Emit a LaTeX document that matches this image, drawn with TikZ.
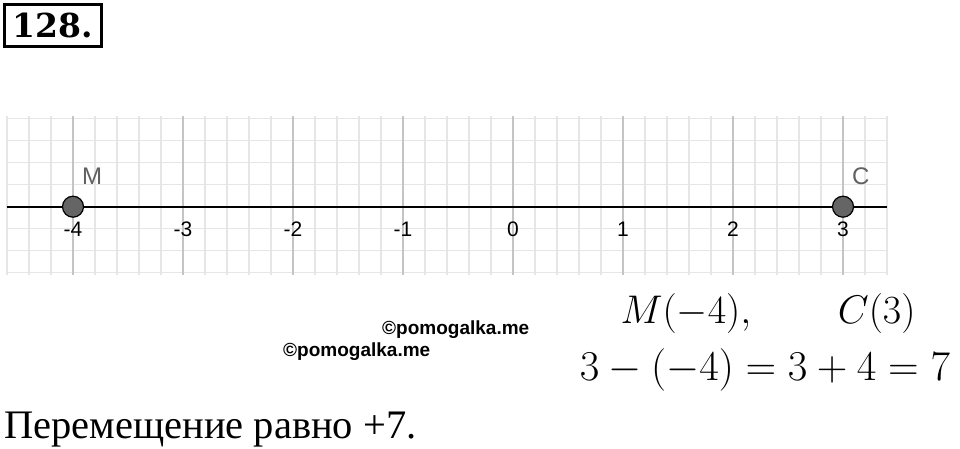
\documentclass[tikz,border=0pt]{standalone}
\usepackage{fix-cm}
\usepackage{fontspec}
\setmainfont{Liberation Serif}
\newfontfamily\ggbfont{Liberation Sans}
\newfontfamily\numfont{DejaVu Serif}
\usetikzlibrary{positioning}
\definecolor{gridmajor}{HTML}{C4C4C4}
\definecolor{gridminor}{HTML}{E6E6E6}
\definecolor{ptfill}{HTML}{656565}
\definecolor{ptlabel}{HTML}{606060}

\begin{document}
\begin{tikzpicture}[x=1pt, y=-1pt,
  minorline/.style={gridminor, line width=1.5pt},
  majorline/.style={gridmajor, line width=1.8pt},
  axisline/.style={black, line width=1.8pt},
  pt/.style={circle, draw=black, line width=1.2pt, fill=ptfill, minimum size=21pt, inner sep=0pt},
  ptname/.style={text=ptlabel, inner sep=0pt, font=\ggbfont\fontsize{24}{24}\selectfont},
  ticklbl/.style={inner sep=0pt, font=\ggbfont\fontsize{21}{21}\selectfont},
  numbox/.style={draw, line width=3pt, minimum width=97pt, minimum height=42pt, inner sep=0pt, font=\numfont\bfseries\fontsize{33}{33}\selectfont},
  mathline/.style={anchor=base, inner sep=0pt},
  wmark/.style={anchor=base west, inner sep=0pt, font=\ggbfont\bfseries\fontsize{19}{19}\selectfont},
  anstext/.style={anchor=base west, inner sep=0pt, font=\fontsize{40.5}{42}\selectfont}]
\useasboundingbox (0,0) rectangle (960,449);
\node[numbox] (num) at (53,25.5) {128.};
\begin{scope}[shift={(513,206.7)}, x=110pt, y=110pt]
\foreach \i in {0,...,40}
  \draw[minorline] ({-4.6+0.2*\i},-0.62) -- ({-4.6+0.2*\i},0.825);
\foreach \j in {-3,...,4}
  \draw[minorline] (-4.6,0.2*\j) -- (3.4,0.2*\j);
\foreach \x in {-4,...,3} {
  \draw[majorline] (\x,-0.62) -- (\x,0.825);
  \node[ticklbl] (tick\x) at (\x,-0.203) {\x};
}
\draw[axisline] (-4.6,0) -- (3.4,0);
\node[pt] (M) at (-4,0) {};
\node[pt] (C) at (3,0) {};
\node[ptname, above right=14pt and 1pt of M] (Mname) {M};
\node[ptname, above right=14pt and 1pt of C] (Cname) {C};
\end{scope}
\node[wmark] (wm1) at (382,334) {©pomogalka.me};
\node[wmark] (wm2) at (283,356) {©pomogalka.me};
\node[mathline, font=\fontsize{40}{42}\selectfont] (eq1) at (768,323) {$M(-4),\qquad C(3)$};
\node[mathline, font=\fontsize{42.5}{44}\selectfont] (eq2) at (765,380) {$3-(-4)=3+4=7$};
\node[anstext] (ans) at (4,438) {Перемещение равно +7.};
\end{tikzpicture}
\end{document}
